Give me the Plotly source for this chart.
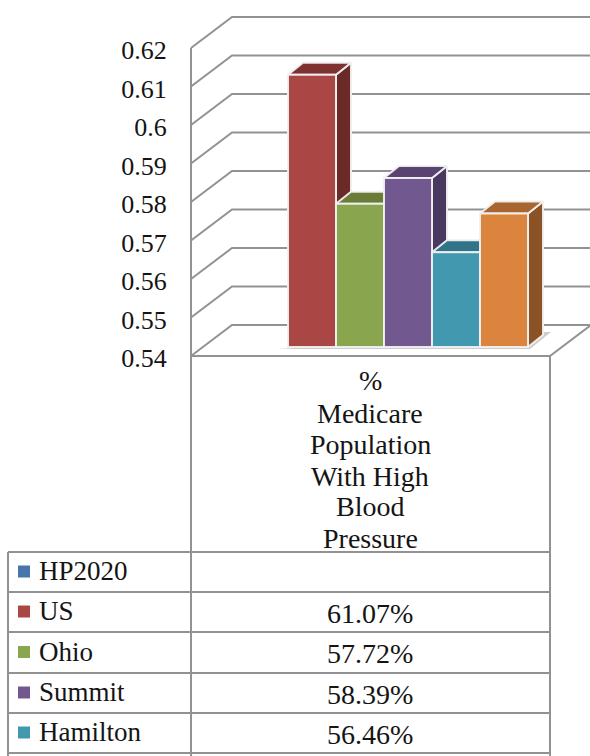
import plotly.graph_objects as go

CATEGORY = "% Medicare Population With High Blood Pressure"
HEADER_LINES = ["%", "Medicare", "Population", "With High", "Blood", "Pressure"]
SERIES = ["HP2020", "US", "Ohio", "Summit", "Hamilton", "Other"]
VALUES = [None, 0.6107, 0.5772, 0.5839, 0.5646, 0.5747]
FRONT = ["#4674AB", "#AA4643", "#89A54E", "#71588F", "#4198AF", "#DB843D"]
TOP = ["#39608F", "#7E3130", "#6B7C38", "#5A4371", "#31748A", "#A9652F"]
SIDE = ["#2F4F75", "#6B2A28", "#5D6C31", "#4A3860", "#2A6172", "#8B5225"]
TICKS = [0.54, 0.55, 0.56, 0.57, 0.58, 0.59, 0.60, 0.61, 0.62]
TICK_TEXT = ["0.54", "0.55", "0.56", "0.57", "0.58", "0.59", "0.6", "0.61", "0.62"]
TABLE_ROWS = 5  # rows visible before the picture is cut off

W, H = 590, 756
GRID = "#929292"
INK = "#141414"
EDGE = "rgba(240,240,240,0.95)"
FONT = "Liberation Serif"

# projection of the pseudo-3D box, in pixels
PX_PER_UNIT_Y = 3850.0
PX_PER_CAT = 359.0
CENTER_PX = 384.0
FLOOR_PY = 356.0
WALL_DX, WALL_DY = 41, 31
BAR_DY = 9
DEPTH_DX, DEPTH_DY = 15, 12
BARGAP = 1 - 288 / 359
LEFT_PX, RIGHT_PX = 191, 550
HEADER_Y = [380, 413, 444, 476, 507, 538]
ROW_Y = [552, 592, 632, 673, 713, 753]


def ux(px):
    return (px - CENTER_PX) / PX_PER_CAT


def vy(py):
    return TICKS[0] + (FLOOR_PY - py) / PX_PER_UNIT_Y


dux = 1 / PX_PER_CAT
dvy = 1 / PX_PER_UNIT_Y
fig = go.Figure()


def line(xs, ys, width=2):
    fig.add_trace(go.Scatter(x=xs, y=ys, mode="lines", line=dict(color=GRID, width=width),
                             hoverinfo="skip", showlegend=False, cliponaxis=False))


def poly(xs, ys, color, outline=EDGE, width=2):
    fig.add_trace(go.Scatter(x=xs + xs[:1], y=ys + ys[:1], mode="lines", fill="toself",
                             fillcolor=color, line=dict(color=outline, width=width),
                             hoverinfo="skip", showlegend=False))


# walls and floor
for t in TICKS:
    lx, bx, ex = ux(LEFT_PX), ux(LEFT_PX + WALL_DX), ux(W + 5)
    line([lx, bx, ex], [t, t + WALL_DY * dvy, t + WALL_DY * dvy])
line([ux(LEFT_PX), ux(LEFT_PX)], [TICKS[0], TICKS[-1]])
line([ux(LEFT_PX), ux(RIGHT_PX), ux(RIGHT_PX + WALL_DX)],
     [TICKS[0], TICKS[0], TICKS[0] + WALL_DY * dvy])

# soft floor shadow
sw = (1 - BARGAP) / 6
base_v = TICKS[0] + BAR_DY * dvy
poly([ux(278), ux(530), ux(551), ux(540)], [vy(349), vy(349), vy(332), vy(332)],
     "#CDCDCD", outline="rgba(0,0,0,0)", width=0)

# side and top faces, left to right, so that the later ones cover the earlier ones
for i, v in enumerate(VALUES):
    if v is None:
        continue
    x0 = (i - 3) * sw
    x1 = x0 + sw
    y0 = base_v
    y1 = v + BAR_DY * dvy
    dx, dy = DEPTH_DX * dux, DEPTH_DY * dvy
    poly([x1, x1 + dx, x1 + dx, x1], [y0, y0 + dy, y1 + dy, y1], SIDE[i])
    poly([x0, x1, x1 + dx, x0 + dx], [y1, y1, y1 + dy, y1 + dy], TOP[i])

# front faces
for name, v, c in zip(SERIES, VALUES, FRONT):
    fig.add_trace(go.Bar(x=[CATEGORY], y=[None if v is None else v - TICKS[0]], base=TICKS[0],
                         name=name, xaxis="x2", yaxis="y2", showlegend=False,
                         marker=dict(color=c, line=dict(color=EDGE, width=2))))

shapes, ann = [], []


def seg(x0, y0, x1, y1):
    shapes.append(dict(type="line", xref="paper", yref="paper", x0=x0 / W, x1=x1 / W,
                       y0=1 - y0 / H, y1=1 - y1 / H, line=dict(color=GRID, width=2)))


seg(LEFT_PX, FLOOR_PY, LEFT_PX, H)
seg(RIGHT_PX, FLOOR_PY, RIGHT_PX, H)
seg(8, ROW_Y[0], 8, H)
for y in ROW_Y:
    seg(8, y, RIGHT_PX, y)

for txt, y in zip(HEADER_LINES, HEADER_Y):
    ann.append(dict(text=txt, x=370 / W, y=1 - y / H, xref="paper", yref="paper",
                    xanchor="center", yanchor="middle", showarrow=False,
                    font=dict(family=FONT, size=28, color=INK)))

for r in range(TABLE_ROWS):
    cy = (ROW_Y[r] + ROW_Y[r + 1]) / 2
    shapes.append(dict(type="rect", xref="paper", yref="paper", x0=18 / W, x1=30 / W,
                       y0=1 - (cy + 5.5) / H, y1=1 - (cy - 6.5) / H,
                       fillcolor=FRONT[r], line=dict(width=0)))
    ann.append(dict(text=SERIES[r], x=37 / W, y=1 - (cy - 1) / H, xref="paper", yref="paper",
                    xanchor="left", yanchor="middle", showarrow=False,
                    font=dict(family=FONT, size=27, color=INK)))
    if VALUES[r] is not None:
        ann.append(dict(text=f"{VALUES[r] * 100:.2f}%", x=370 / W, y=1 - (cy + 1) / H, xref="paper",
                        yref="paper", xanchor="center", yanchor="middle", showarrow=False,
                        font=dict(family=FONT, size=28, color=INK)))

hidden = dict(showgrid=False, zeroline=False, showticklabels=False, ticks="", showline=False, fixedrange=True)
fig.update_layout(
    width=W, height=H, margin=dict(l=0, r=0, t=0, b=0), paper_bgcolor="white", plot_bgcolor="white",
    barmode="group", bargap=BARGAP, bargroupgap=0, showlegend=False, shapes=shapes, annotations=ann,
    xaxis=dict(domain=[0, 1], range=[ux(0), ux(W)], **hidden),
    yaxis=dict(domain=[0, 1], range=[vy(H), vy(0)], anchor="free", position=LEFT_PX / W, side="left",
               tickmode="array", tickvals=TICKS, ticktext=TICK_TEXT, ticks="outside", ticklen=19,
               ticklabelshift=2, tickcolor="rgba(0,0,0,0)", showgrid=False, zeroline=False,
               showline=False, fixedrange=True, tickfont=dict(family=FONT, size=26, color=INK)),
    xaxis2=dict(domain=[0, 1], type="category", categoryorder="array", categoryarray=[CATEGORY],
                range=[ux(0), ux(W)], overlaying="x", anchor="y2", **hidden),
    yaxis2=dict(domain=[0, 1], range=[vy(H) - BAR_DY * dvy, vy(0) - BAR_DY * dvy], overlaying="y",
                anchor="x2", **hidden),
)

fig.write_html("out.html", config=dict(displayModeBar=False),
               post_script="document.body.style.margin='0';document.body.style.overflow='hidden';")
